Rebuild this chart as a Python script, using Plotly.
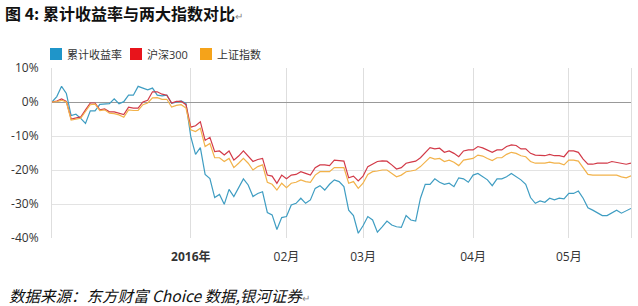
import plotly.graph_objects as go

# ---- data (percent) ----
fund_return = [0, 1.6, 4.6, 2.5, -4.0, -3.6, -4.8, -6.3, -2.6, -2.6, -0.7, -0.7, -0.5, 0.9, -0.5, 0.1, 2.0, 2.0, 4.6, 4.1,
               3.6, 4.1, 2.0, 1.8, 2.0, -0.4, -0.1, 0.3, -0.4, -10.2, -15.4, -13.4, -21.3, -22.5, -28.1, -27.2, -30.1, -25.7, -27.8, -25.2,
               -22.6, -24.4, -27.8, -26.9, -26.4, -32.5, -33.2, -37.5, -34.0, -33.7, -30.3, -29.8, -28.3, -29.8, -28.8, -25.4, -24.6, -25.9, -24.2, -22.9,
               -23.4, -24.9, -31.8, -33.4, -38.6, -36.4, -33.7, -34.7, -38.3, -36.7, -35.0, -36.2, -36.7, -36.9, -33.4, -34.7, -35.0, -28.3, -24.2, -24.2,
               -22.6, -23.6, -24.2, -23.9, -24.9, -22.3, -22.6, -23.6, -21.5, -21.0, -22.0, -22.9, -24.6, -22.6, -22.6, -22.0, -21.0, -22.0, -22.9, -24.2,
               -28.1, -29.8, -29.1, -29.5, -28.3, -28.8, -28.3, -28.5, -26.9, -26.9, -26.2, -28.3, -31.1, -31.8, -32.7, -33.4, -33.4, -32.7, -31.8, -32.7,
               -32.1, -31.3]

hs300 = [0, 0.3, 0.9, 0.2, -5.0, -4.8, -4.4, -2.3, -0.3, -0.3, -2.3, -2.0, -2.9, -2.9, -3.2, -3.7, -1.5, -1.8, -1.8, 0.0,
         0.5, 3.0, 3.0, 2.3, 2.0, -0.3, 0.2, 0.2, -0.8, -7.4, -7.0, -5.8, -11.3, -10.4, -14.6, -14.4, -15.6, -14.4, -17.1, -15.9,
         -14.4, -15.8, -17.5, -16.9, -16.6, -21.5, -21.8, -23.9, -21.5, -22.6, -21.5, -21.3, -20.5, -21.0, -21.5, -19.3, -18.5, -18.5, -18.7, -17.1,
         -17.3, -17.4, -22.3, -21.8, -23.2, -21.8, -19.0, -18.3, -17.5, -17.3, -17.4, -18.5, -19.7, -19.3, -18.0, -17.7, -17.4, -16.4, -14.8, -13.4,
         -13.8, -13.6, -14.8, -14.4, -15.1, -16.1, -14.4, -14.1, -14.1, -13.1, -13.5, -14.1, -14.8, -14.1, -14.1, -13.1, -12.6, -12.8, -13.8, -13.8,
         -15.1, -15.6, -15.6, -15.8, -15.4, -15.8, -15.8, -16.1, -14.4, -14.4, -14.8, -16.8, -18.3, -18.3, -18.0, -18.0, -18.0, -17.5, -17.7, -18.0,
         -18.3, -18.0]

sh_index = [0, 0.1, 0.5, 0.0, -5.3, -5.1, -4.8, -2.8, -0.8, -0.6, -2.5, -2.3, -3.3, -3.4, -3.8, -4.5, -2.3, -2.5, -2.5, -0.8,
            -0.3, 1.2, 1.3, 0.8, 0.8, -1.5, -1.0, -0.8, -1.8, -8.2, -8.7, -7.7, -13.1, -12.2, -16.4, -16.4, -17.5, -16.6, -19.3, -18.0,
            -16.6, -18.0, -20.0, -19.0, -18.5, -23.6, -24.2, -25.9, -23.9, -25.2, -23.9, -23.6, -22.9, -23.4, -23.6, -21.5, -20.5, -20.5, -20.5, -19.3,
            -19.4, -19.3, -23.9, -23.4, -25.4, -23.9, -21.3, -20.5, -20.3, -20.0, -20.0, -21.0, -22.0, -21.5, -20.5, -20.3, -20.0, -19.0, -17.5, -16.3,
            -16.8, -16.6, -17.5, -17.1, -17.7, -18.7, -17.1, -16.8, -16.6, -15.6, -15.9, -16.6, -17.2, -16.4, -16.4, -15.4, -14.8, -15.1, -15.8, -16.1,
            -17.5, -18.0, -18.0, -18.0, -17.7, -18.0, -18.0, -18.5, -17.1, -17.1, -17.4, -19.3, -21.3, -21.5, -21.5, -21.5, -21.5, -21.3, -21.5, -22.0,
            -22.3, -21.7]

series_names = ["累计收益率", "沪深300", "上证指数"]
series_colors = ["#1f95c9", "#e8141b", "#f5a31a"]
line_colors = ["#3f9dc2", "#d23a48", "#f2b24a"]

# trading-day index of month starts
tick_pos = [29, 49, 65, 88, 108]
tick_text = ["<b>2016年</b>", "02月", "03月", "04月", "05月"]
y_ticks = [10, 0, -10, -20, -30, -40]
y_tick_text = ["10%", "0%", "-10%", "-20%", "-30%", "-40%"]

x = list(range(len(fund_return)))
FONT = "Open Sans, Noto Sans CJK SC, sans-serif"

W, H = 638, 306
ML, MR, MT, MB = 52, 7, 68, 68
PW, PH = W - ML - MR, H - MT - MB


def px_x(p):
    return (p - ML) / PW


def px_y(p):
    return (H - MB - p) / PH


fig = go.Figure()
for vals, name, lc in zip([fund_return, hs300, sh_index], series_names, line_colors):
    fig.add_trace(go.Scatter(x=x, y=vals, mode="lines", name=name, showlegend=False,
                             line=dict(color=lc, width=1.2), hoverinfo="skip"))

# legend (square swatch + label), drawn as paper-positioned decorations
legend_left_px = [50, 130, 200]
shapes = []
annotations = []
for lx, name, c in zip(legend_left_px, series_names, series_colors):
    shapes.append(dict(type="rect", xref="paper", yref="paper",
                       x0=px_x(lx), x1=px_x(lx + 12), y0=px_y(60), y1=px_y(48),
                       fillcolor=c, line=dict(width=0)))
    annotations.append(dict(xref="paper", yref="paper", x=px_x(lx + 15), y=px_y(54),
                            xanchor="left", yanchor="middle", showarrow=False,
                            text=name, font=dict(family=FONT, size=11, color="#333")))

annotations += [
    dict(xref="paper", yref="paper", x=px_x(3), y=px_y(13), xanchor="left", yanchor="middle",
         showarrow=False, align="left",
         text="<b>图 4: 累计收益率与两大指数对比</b><span style='font-size:10px;color:#888'>↵</span>",
         font=dict(family="Noto Sans CJK SC, sans-serif", size=16, color="#111")),
    dict(xref="paper", yref="paper", x=px_x(7), y=px_y(295), xanchor="left", yanchor="middle",
         showarrow=False, align="left",
         text="<i>数据来源：东方财富 Choice 数据,银河证券</i><span style='font-size:10px;color:#888'>↵</span>",
         font=dict(family="Noto Sans CJK SC, sans-serif", size=15.5, color="#111")),
]

fig.update_layout(
    width=W, height=H,
    margin=dict(l=ML, r=MR, t=MT, b=MB),
    paper_bgcolor="white", plot_bgcolor="white",
    font=dict(family=FONT, size=12, color="#333"),
    showlegend=False,
    xaxis=dict(range=[0, len(fund_return) - 1], tickvals=tick_pos, ticktext=tick_text,
               showgrid=True, gridcolor="#dedede", gridwidth=1, showline=False, zeroline=False,
               ticks="", ticklabelstandoff=10, tickfont=dict(size=12, color="#333")),
    yaxis=dict(range=[-40, 10], tickvals=y_ticks, ticktext=y_tick_text,
               showgrid=True, gridcolor="#e3e3e3", gridwidth=1,
               zeroline=True, zerolinecolor="#999", zerolinewidth=1,
               showline=True, mirror=True, linecolor="#dedede", linewidth=1,
               ticks="", ticklabelstandoff=10, tickfont=dict(size=12, color="#333")),
    shapes=shapes,
    annotations=annotations,
)

fig.write_html("out.html")
